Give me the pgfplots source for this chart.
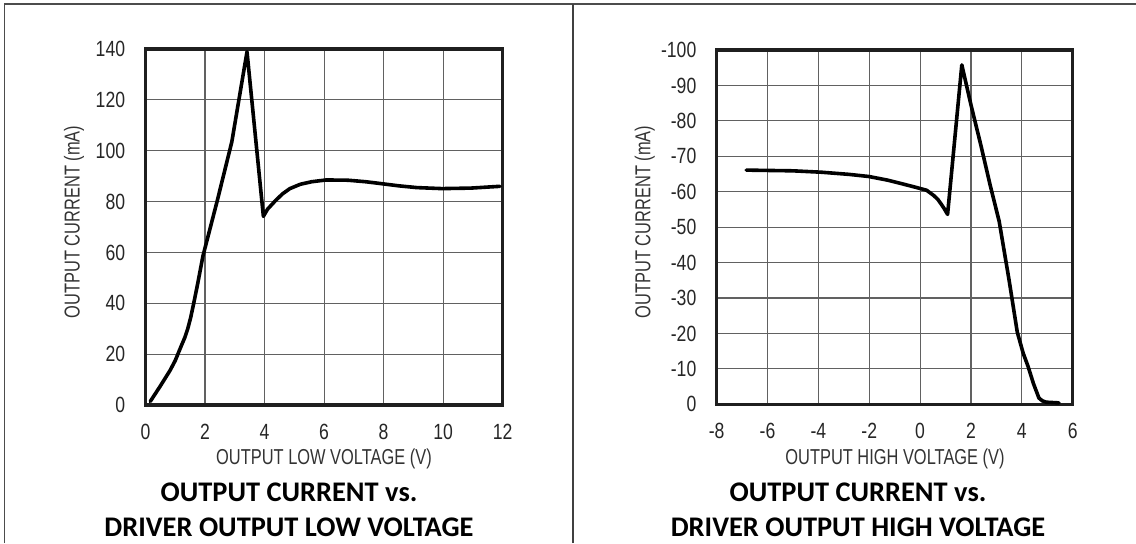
\documentclass[border=0pt]{standalone}
\usepackage{pgfplots}
\pgfplotsset{compat=1.18}
\usepackage{fontspec}
\setmainfont{Liberation Sans}
\newfontfamily\narrow{Liberation Sans}[FakeStretch=0.8]
\newfontfamily\narrowl{Liberation Sans}[FakeStretch=0.76]
\newfontfamily\titlefont{Carlito}
\begin{document}
\begin{tikzpicture}[x=1pt,y=1pt]
\path[use as bounding box] (0,0) rectangle (568,271.5);
\draw[black!70, line width=0.75pt] (2.35,0) -- (2.35,269.5) -- (568,269.5);
\draw[black!75, line width=0.9pt] (286.65,0) -- (286.65,269.5);
\pgfplotsset{every axis/.append style={scale only axis, grid=major,
  major grid style={draw=black!62,line width=0.55pt},
  axis line style={draw=black!88,line width=1.7pt},
  major tick length=0pt,
  tick label style={font=\narrow\fontsize{11}{13}\selectfont, text=black!85},
  xticklabel style={anchor=base, yshift=-17pt, inner sep=0pt},
  yticklabel style={anchor=east, xshift=-10pt, inner sep=0pt}}}
\begin{axis}[at={(72.75pt,69pt)}, anchor=south west, width=178.6pt, height=178pt,
  xmin=0,xmax=12,ymin=0,ymax=140,
  xtick={0,2,...,12}, xticklabels={0,2,4,6,8,10,12},
  ytick={0,20,...,140}, yticklabels={0,20,40,60,80,100,120,140}]
\addplot[black, line width=1.8pt, line join=round, line cap=round] coordinates {
(0.16,1.4) (0.5,7.5) (0.83,13.7) (1.0,17.5) (1.2,23.2) (1.32,26.5) (1.42,30) (1.52,34.5) (1.62,40)
(1.75,47.5) (1.93,58.6) (2.41,80.3) (2.9,103.5) (3.41,138.9) (3.96,74.2) (4.1,77)
(4.36,80.3) (4.6,83) (4.85,85.1) (5.2,86.8) (5.58,87.8) (6.07,88.5) (6.8,88.4)
(7.4,87.8) (7.89,87.1) (8.5,86.2) (9.11,85.5) (9.96,85.1) (10.93,85.3) (11.91,86.0)};
\end{axis}
\begin{axis}[at={(358.35pt,69.35pt)}, anchor=south west, width=178pt, height=177.15pt,
  xmin=-8,xmax=6,ymin=-100,ymax=0, y dir=reverse,
  xtick={-8,-6,...,6}, xticklabels={-8,-6,-4,-2,0,2,4,6},
  ytick={-100,-90,...,0}, yticklabels={-100,-90,-80,-70,-60,-50,-40,-30,-20,-10,0}]
\addplot[black, line width=1.8pt, line join=round, line cap=round] coordinates {
(-6.84,-66.1) (-5,-65.9) (-3.87,-65.5) (-2.8,-64.9) (-2.02,-64.3) (-1.3,-63.3)
(-0.74,-62.3) (-0.2,-61.3) (0.26,-60.4) (0.54,-58.9) (0.7,-57.8) (0.83,-56.5)
(0.95,-55.2) (1.08,-53.6) (1.64,-95.8) (2.0,-84.5) (2.39,-73.1) (2.75,-62)
(3.11,-51.6) (3.5,-35) (3.82,-20.4) (4.05,-14.5) (4.25,-10.6) (4.45,-6)
(4.67,-1.8) (4.8,-1.0) (4.96,-0.6) (5.46,-0.4)};
\end{axis}
\tikzset{lab/.style={font=\narrowl\fontsize{10.8}{12}\selectfont, text=black!80, inner sep=0pt}}
\node[lab, rotate=90] at (37,160.5) {OUTPUT CURRENT (mA)};
\node[lab, rotate=90] at (322.4,160.5) {OUTPUT CURRENT (mA)};
\node[lab] at (162,42.25) {OUTPUT LOW VOLTAGE (V)};
\node[lab] at (447.5,42.25) {OUTPUT HIGH VOLTAGE (V)};
\tikzset{ttl/.style={font=\titlefont\bfseries\fontsize{14.2}{16}\selectfont, anchor=base, inner sep=0pt}}
\node[ttl] at (144.5,21) {OUTPUT CURRENT vs.};
\node[ttl] at (144.5,3.5) {DRIVER OUTPUT LOW VOLTAGE};
\node[ttl] at (429,21) {OUTPUT CURRENT vs.};
\node[ttl] at (429,3.5) {DRIVER OUTPUT HIGH VOLTAGE};
\end{tikzpicture}
\end{document}
